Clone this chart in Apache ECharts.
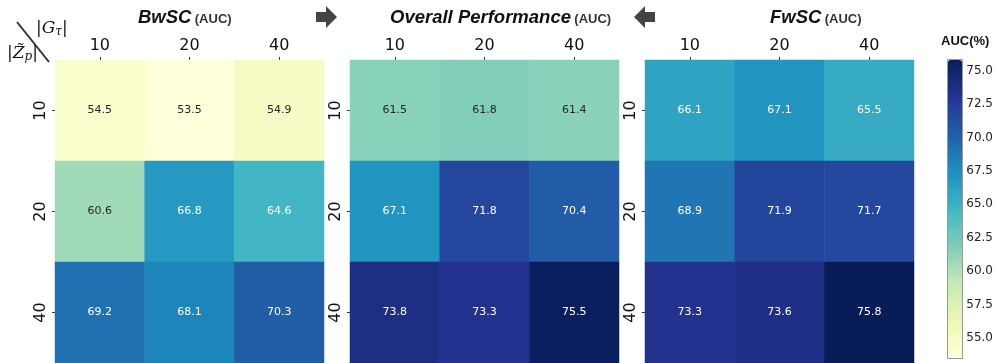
<!DOCTYPE html>
<html><head><meta charset="utf-8">
<script src="https://cdn.jsdelivr.net/npm/echarts@6/dist/echarts.min.js"></script>
<style>html,body{margin:0;padding:0;background:#fff}#c{width:996px;height:363px}</style>
</head><body><div id="c"></div>
<script>
const xCategories = ['10', '20', '40'];
const yCategories = ['10', '20', '40'];
const panelTitles = ['BwSC', 'Overall Performance', 'FwSC'];
const bwscValues = [[54.5, 53.5, 54.9], [60.6, 66.8, 64.6], [69.2, 68.1, 70.3]];
const overallValues = [[61.5, 61.8, 61.4], [67.1, 71.8, 70.4], [73.8, 73.3, 75.5]];
const fwscValues = [[66.1, 67.1, 65.5], [68.9, 71.9, 71.7], [73.3, 73.6, 75.8]];
const colorbarTicks = [55, 57.5, 60, 62.5, 65, 67.5, 70, 72.5, 75];
const colorMin = 53.5, colorMax = 75.8;

const panels = [bwscValues, overallValues, fwscValues];
const ylgnbu = ['#ffffd9', '#edf8b1', '#c7e9b4', '#7fcdbb', '#41b6c4', '#1d91c0', '#225ea8', '#253494', '#081d58'];
const lefts = [55, 350, 645];
const W = 269, TOP = 60, H = 303;

const grids = [], xAxes = [], yAxes = [], series = [];
panels.forEach((vals, i) => {
  grids.push({ left: lefts[i], top: TOP, width: W, height: H });
  xAxes.push({
    type: 'category', data: xCategories, gridIndex: i, position: 'top',
    axisLine: { show: false }, splitLine: { show: false },
    axisTick: { show: true, alignWithLabel: true, length: 3, lineStyle: { color: '#333' } },
    axisLabel: { fontSize: 16, color: '#111', margin: 6, fontFamily: 'DejaVu Sans' }
  });
  yAxes.push({
    type: 'category', data: yCategories, gridIndex: i, inverse: true,
    axisLine: { show: false }, splitLine: { show: false },
    axisTick: { show: true, alignWithLabel: true, length: 3, lineStyle: { color: '#333' } },
    axisLabel: { fontSize: 16, color: '#111', rotate: 90, margin: 6, fontFamily: 'DejaVu Sans' }
  });
  const data = [];
  vals.forEach((row, r) => row.forEach((v, c) => data.push({ value: [c, r, v], label: { color: v < 63 ? '#262626' : '#ffffff' } })));
  series.push({
    type: 'heatmap', xAxisIndex: i, yAxisIndex: i, data,
    itemStyle: { borderWidth: 0 },
    label: {
      show: true, fontSize: 11, fontFamily: 'DejaVu Sans',
      formatter: p => p.value[2].toFixed(1)
    },
    emphasis: { disabled: true }
  });
});

// colorbar axis
grids.push({ left: 948, top: 60, width: 14, height: 298, show: false });
xAxes.push({ type: 'value', gridIndex: 3, show: false, min: 0, max: 1 });
yAxes.push({
  type: 'value', gridIndex: 3, position: 'right', min: colorMin, max: colorMax,
  splitLine: { show: false }, axisLine: { show: false },
  axisTick: { show: true, length: 3, customValues: colorbarTicks, lineStyle: { color: '#333' } },
  axisLabel: { customValues: colorbarTicks, formatter: v => v.toFixed(1), fontSize: 12, color: '#222', margin: 5, fontFamily: 'DejaVu Sans' }
});

const titleRich = {
  t: { font: 'italic bold 18.5px "Liberation Sans"', fill: '#111' },
  s: { font: 'bold 13px "Liberation Sans"', fill: '#333', padding: [4, 0, 0, 0] }
};

const chart = echarts.init(document.getElementById('c'), null, { renderer: 'canvas' });
chart.setOption({
  animation: false,
  backgroundColor: '#fff',
  grid: grids, xAxis: xAxes, yAxis: yAxes,
  visualMap: {
    type: 'continuous', min: colorMin, max: colorMax, seriesIndex: [0, 1, 2],
    calculable: false, realtime: false, orient: 'vertical',
    left: 948, top: 60, itemWidth: 14, itemHeight: 298, padding: 0,
    text: ['', ''], showLabel: false, hoverLink: false,
    inRange: { color: ylgnbu }
  },
  series,
  graphic: [
    { type: 'rect', shape: { x: 947.5, y: 59.5, width: 15, height: 299 }, style: { fill: 'none', stroke: '#999', lineWidth: 1 }, z: 100, silent: true },
    { type: 'text', left: 941, top: 35, style: { text: 'AUC(%)', font: 'bold 13px "Liberation Sans", Arial', fill: '#111' } },
    { type: 'text', left: 138, top: 8, style: { text: '{t|' + panelTitles[0] + '} {s|(AUC)}', rich: titleRich } },
    { type: 'text', left: 390, top: 8, style: { text: '{t|' + panelTitles[1] + '} {s|(AUC)}', rich: titleRich } },
    { type: 'text', left: 770, top: 8, style: { text: '{t|' + panelTitles[2] + '} {s|(AUC)}', rich: titleRich } },
    { type: 'polygon', shape: { points: [[316, 12], [326, 12], [326, 6], [337, 17], [326, 28], [326, 22], [316, 22]] }, style: { fill: '#444' } },
    { type: 'polygon', shape: { points: [[655, 12], [645, 12], [645, 6], [634, 17], [645, 28], [645, 22], [655, 22]] }, style: { fill: '#444' } },
    { type: 'line', shape: { x1: 17, y1: 22, x2: 49, y2: 62 }, style: { stroke: '#333', lineWidth: 2 } },
    { type: 'text', left: 36, top: 20, style: { text: '|{i|G}{s|τ}|', font: '17px "DejaVu Serif"', fill: '#111', rich: { i: { font: 'italic 17px "DejaVu Serif"', fill: '#111' }, s: { font: 'italic 12px "DejaVu Serif"', fill: '#111', padding: [6, 0, 0, 0] } } } },
    { type: 'text', left: 7, top: 45, style: { text: '|{i|Z̃}{s|p}|', font: '17px "DejaVu Serif"', fill: '#111', rich: { i: { font: 'italic 17px "DejaVu Serif"', fill: '#111' }, s: { font: 'italic 12px "DejaVu Serif"', fill: '#111', padding: [6, 0, 0, 0] } } } }
  ]
});
</script></body></html>
